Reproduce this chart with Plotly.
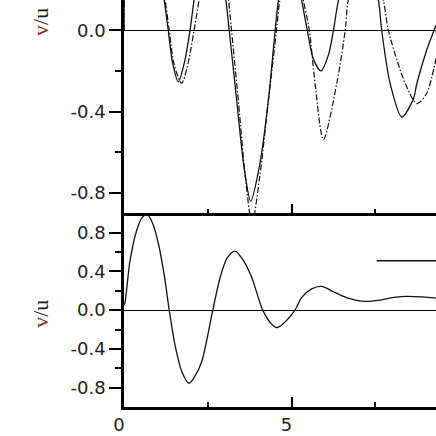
import plotly.graph_objects as go

# --- data (x in n/lambda, y in v/u) ---
# upper panel, solid curve
top_solid_x = [0, 0.03, 0.3, 0.7, 1.0, 1.2, 1.32, 1.45, 1.62, 1.8, 1.97, 2.09, 2.3, 2.55, 2.8,
               3.04, 3.14, 3.36, 3.58, 3.78, 4.04, 4.31, 4.51, 4.61, 4.95, 5.3, 5.47, 5.65,
               5.88, 6.1, 6.25, 6.4, 7.0, 7.59, 7.69, 7.94, 8.29, 8.63, 8.74, 9.03, 9.25, 9.31]
top_solid_y = [0, 0.3, 0.7, 0.6, 0.35, 0.149, 0.0, -0.16, -0.253, -0.16, 0.0, 0.149, 0.38, 0.47, 0.38,
               0.149, 0.0, -0.34, -0.67, -0.84, -0.67, -0.34, 0.0, 0.149, 0.42, 0.149, 0.0, -0.14,
               -0.199, -0.12, 0.0, 0.149, 0.5, 0.149, 0.0, -0.26, -0.426, -0.34, -0.26, -0.097, 0.0, 0.026]

# upper panel, dash-dot curve
top_dash_x = [0, 0.03, 0.3, 0.7, 1.0, 1.23, 1.35, 1.5, 1.72, 1.9, 2.09, 2.24, 2.5, 2.75, 3.0,
              3.12, 3.21, 3.42, 3.62, 3.82, 4.05, 4.3, 4.55, 4.65, 5.0, 5.35, 5.53, 5.7,
              5.95, 6.35, 6.6, 6.69, 7.2, 7.74, 7.89, 8.39, 8.74, 9.03, 9.31]
top_dash_y = [0, 0.3, 0.7, 0.62, 0.4, 0.149, 0.0, -0.17, -0.26, -0.17, 0.0, 0.149, 0.4, 0.45, 0.3,
              0.149, 0.0, -0.36, -0.72, -0.95, -0.72, -0.36, 0.0, 0.149, 0.42, 0.149, 0.0, -0.26,
              -0.537, -0.26, 0.0, 0.149, 0.45, 0.149, 0.0, -0.26, -0.36, -0.31, -0.137]

# lower panel, solid curve
bottom_x = [0, 0.03, 0.18, 0.38, 0.55, 0.68, 0.85, 1.03, 1.21, 1.35, 1.52, 1.72, 1.94, 2.12,
            2.32, 2.65, 2.87, 3.08, 3.31, 3.55, 3.81, 4.14, 4.41, 4.56, 4.75, 5.1, 5.3, 5.6,
            5.9, 6.25, 6.64, 7.2, 7.64, 8.0, 8.39, 8.9, 9.31]
bottom_y = [0.05, 0.08, 0.51, 0.825, 0.96, 0.99, 0.9, 0.68, 0.34, 0.0, -0.355, -0.63, -0.755, -0.68,
            -0.53, 0.0, 0.34, 0.54, 0.61, 0.52, 0.34, 0.0, -0.147, -0.18, -0.14, 0.0, 0.13, 0.22,
            0.245, 0.19, 0.13, 0.09, 0.104, 0.13, 0.142, 0.137, 0.125]

# tick labels
x_tickvals = [0, 5, 10]
x_ticktext = ['0', '5', '10']
top_y_tickvals = [0.0, -0.4, -0.8]
top_y_ticktext = ['0.0', '-0.4', '-0.8']
bottom_y_tickvals = [0.8, 0.4, 0.0, -0.4, -0.8]
bottom_y_ticktext = ['0.8', '0.4', '0.0', '-0.4', '-0.8']

tick_font = dict(family='DejaVu Sans', size=18, color='#222222')
line_color = '#111111'

fig = go.Figure()

fig.add_trace(go.Scatter(x=top_solid_x, y=top_solid_y, mode='lines', xaxis='x', yaxis='y',
                         line=dict(color=line_color, width=1.3, shape='spline', smoothing=0.8)))
fig.add_trace(go.Scatter(x=top_dash_x, y=top_dash_y, mode='lines', xaxis='x', yaxis='y',
                         line=dict(color=line_color, width=1.2, shape='spline', smoothing=0.8,
                                   dash='6px,2px,1.5px,2px')))
fig.add_trace(go.Scatter(x=bottom_x, y=bottom_y, mode='lines', xaxis='x2', yaxis='y2',
                         line=dict(color=line_color, width=1.3, shape='spline', smoothing=0.8)))

# common axis styling
x_common = dict(range=[0, 9.31], showline=True, linecolor='black', linewidth=2.5,
                showgrid=False, zeroline=False, ticks='inside', ticklen=10, tickwidth=2,
                tickcolor='black', tickmode='array', tickvals=x_tickvals, ticktext=x_ticktext,
                minor=dict(tickmode='array', tickvals=[2.5, 7.5], ticks='inside', ticklen=5,
                           tickwidth=2, tickcolor='black'))
y_common = dict(showline=True, linecolor='black', linewidth=2.5, showgrid=False,
                zeroline=True, zerolinecolor='black', zerolinewidth=1,
                ticks='outside', ticklen=12, tickwidth=2, tickcolor='black',
                tickmode='array', tickfont=tick_font)

split = 0.476  # boundary between the two panels

fig.update_layout(
    width=436, height=436,
    margin=dict(l=124, r=0, t=0, b=29),
    plot_bgcolor='white',
    paper_bgcolor='white',
    showlegend=False,
    xaxis=dict(x_common, domain=[0, 1], anchor='y', showticklabels=False),
    yaxis=dict(y_common, domain=[split, 1], anchor='x', range=[-0.9, 0.15],
               tickvals=top_y_tickvals, ticktext=top_y_ticktext,
               minor=dict(tickmode='array', tickvals=[-0.2, -0.6], ticks='outside',
                          ticklen=6, tickwidth=2, tickcolor='black')),
    xaxis2=dict(x_common, domain=[0, 1], anchor='y2', showticklabels=True,
                tickfont=tick_font, ticklabelshift=-5),
    yaxis2=dict(y_common, domain=[0, split], anchor='x2', range=[-1.0, 1.0],
                tickvals=bottom_y_tickvals, ticktext=bottom_y_ticktext,
                minor=dict(tickmode='array', tickvals=[0.6, 0.2, -0.2, -0.6], ticks='outside',
                           ticklen=6, tickwidth=2, tickcolor='black')),
)

# legend sample line, its label falls outside the cropped view
fig.add_shape(type='line', xref='paper', yref='y2', x0=0.81, x1=1.0, y0=0.51, y1=0.51,
              line=dict(color=line_color, width=1.3))

# rotated v/u titles
title_text = "<span style='color:#8b2a1a'>v</span>/u"
for ypos in [0.946, 0.229]:
    fig.add_annotation(text=title_text, xref='paper', yref='paper', x=-0.266, y=ypos,
                       xanchor='center', yanchor='middle', textangle=-90, showarrow=False,
                       font=dict(family='Liberation Serif', size=22, color='#1a1a1a'))

# drop the default page margin so the figure sits at the window corner, no modebar
fig.write_html("out.html", config={'displayModeBar': False},
               post_script="document.body.style.margin='0px';")
